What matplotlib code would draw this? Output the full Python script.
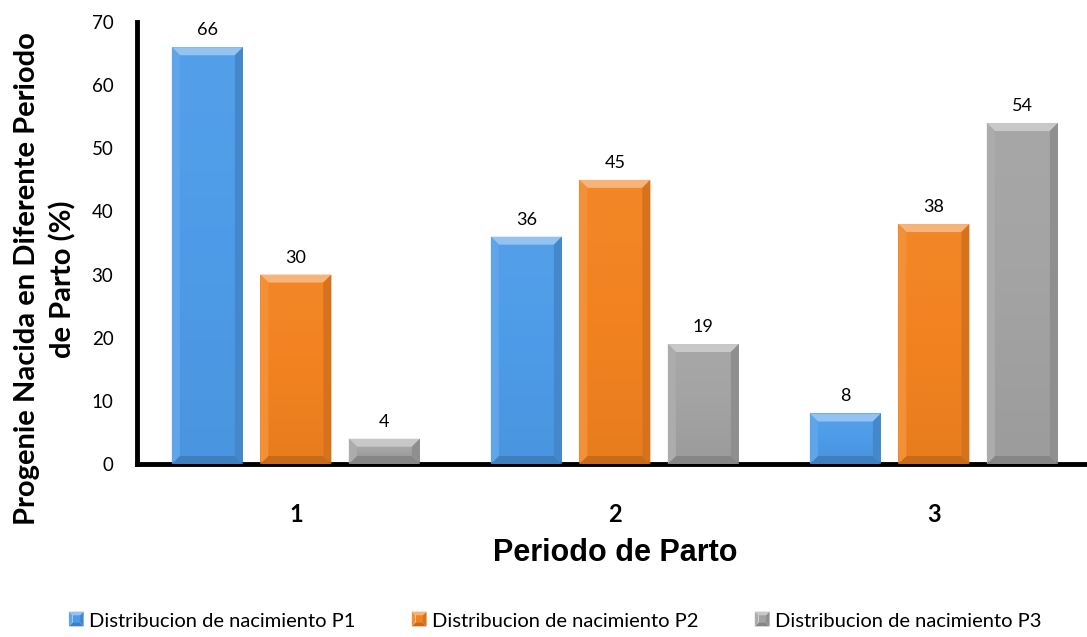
import matplotlib
matplotlib.use("Agg")
import matplotlib.pyplot as plt
from matplotlib.patches import Polygon, Rectangle
from matplotlib.legend_handler import HandlerBase
from matplotlib.colors import to_rgb
import numpy as np

categories = ["1", "2", "3"]
series_names = ["Distribucion de nacimiento P1",
                "Distribucion de nacimiento P2",
                "Distribucion de nacimiento P3"]
p1_values = [66, 36, 8]
p2_values = [30, 45, 38]
p3_values = [4, 19, 54]
series_values = [p1_values, p2_values, p3_values]
series_colors = ["#4d9be8", "#f2821f", "#a3a3a3"]
y_ticks = [0, 10, 20, 30, 40, 50, 60, 70]

FONT = ["Lato", "DejaVu Sans"]
plt.rcParams["font.family"] = FONT


def shade(c, f):
    r, g, b = to_rgb(c)
    if f >= 0:
        return (r + (1 - r) * f, g + (1 - g) * f, b + (1 - b) * f)
    return (r * (1 + f), g * (1 + f), b * (1 + f))


def bevel_faces(x0, y0, w, h, dx, dy, color):
    x1, y1 = x0 + w, y0 + h
    outer = [(x0, y0), (x1, y0), (x1, y1), (x0, y1)]
    inner = [(x0 + dx, y0 + dy), (x1 - dx, y0 + dy), (x1 - dx, y1 - dy), (x0 + dx, y1 - dy)]
    return [
        ([outer[3], outer[2], inner[2], inner[3]], shade(color, 0.40)),   # top
        ([outer[0], outer[1], inner[1], inner[0]], shade(color, -0.18)),  # bottom
        ([outer[0], outer[3], inner[3], inner[0]], shade(color, 0.10)),   # left
        ([outer[1], outer[2], inner[2], inner[1]], shade(color, -0.12)),  # right
    ]


def bevel_bar(ax, patch, color, bev_px=8):
    # bevelled look for one bar, sized in pixels
    x0, w, h = patch.get_x(), patch.get_width(), patch.get_height()
    inv = ax.transData.inverted()
    p0 = ax.transData.transform((x0, 0))
    dx = abs(inv.transform((p0[0] + bev_px, p0[1]))[0] - x0)
    dy = abs(inv.transform((p0[0], p0[1] + bev_px))[1])
    dx = min(dx, w / 2)
    dy = min(dy, h / 2)
    n = 14
    for i in range(n):
        t = i / n
        yb = dy + (h - 2 * dy) * t
        ax.add_patch(Rectangle((x0 + dx, yb), w - 2 * dx, (h - 2 * dy) / n + 1e-3,
                               facecolor=shade(color, 0.08 * t - 0.04),
                               edgecolor="none", zorder=3))
    for pts, col in bevel_faces(x0, 0, w, h, dx, dy, color):
        ax.add_patch(Polygon(pts, closed=True, facecolor=col, edgecolor="none", zorder=3))


class BevelSquare(HandlerBase):
    def create_artists(self, legend, orig_handle, xd, yd, width, height, fontsize, trans):
        col = orig_handle.get_facecolor()
        s = min(width, height)
        x0 = xd + (width - s) / 2
        y0 = yd + (height - s) / 2
        b = s * 0.25
        arts = [Rectangle((x0 + b, y0 + b), s - 2 * b, s - 2 * b, facecolor=col,
                          edgecolor="none", transform=trans)]
        for pts, c in bevel_faces(x0, y0, s, s, b, b, col):
            arts.append(Polygon(pts, closed=True, facecolor=c, edgecolor="none", transform=trans))
        return arts


fig = plt.figure(figsize=(10.87, 6.37), dpi=100)
ax = fig.add_axes([137 / 1087, 1 - 464 / 637, 1 - 137 / 1087, (464 - 22) / 637])

x = np.arange(len(categories))
bar_w = 0.2226
step = 0.2774
ax.set_xlim(-0.498, 2.48)
ax.set_ylim(0, 70)

handles = []
for k, (vals, col, name) in enumerate(zip(series_values, series_colors, series_names)):
    pos = x + (k - 1) * step
    bars = ax.bar(pos, vals, width=bar_w, color=col, label=name, zorder=2)
    handles.append(bars.patches[0])
    for b, v in zip(bars, vals):
        bevel_bar(ax, b, col)
        ax.text(b.get_x() + b.get_width() / 2, v + 2.7, str(v),
                ha="center", va="center", fontsize=13, color="black")

ax.set_yticks(y_ticks)
ax.set_yticklabels([str(t) for t in y_ticks], fontsize=13.5)
ax.set_xticks(x)
ax.set_xticklabels(categories, fontsize=17, fontweight="bold")
ax.tick_params(axis="both", length=0)
ax.tick_params(axis="y", pad=17)
ax.tick_params(axis="x", pad=28)

for s in ["top", "right"]:
    ax.spines[s].set_visible(False)
ax.spines["left"].set_linewidth(3.5)
ax.spines["bottom"].set_linewidth(3.5)

fig.text(615 / 1087, 1 - 553 / 637, "Periodo de Parto", fontsize=22, fontweight="bold",
         family=["Liberation Sans", "DejaVu Sans"], ha="center", va="center")
fig.text(45 / 1087, 1 - 279 / 637, "Progenie Nacida en Diferente Periodo\nde Parto (%)",
         fontsize=21, fontweight="bold", rotation=90, ha="center", va="center",
         multialignment="center", linespacing=1.4)

fig.legend(handles, series_names, loc="center", bbox_to_anchor=(0.5106, 1 - 621 / 637),
           ncol=3, frameon=False, fontsize=14.5, handlelength=0.75, handleheight=0.75,
           handletextpad=0.25, columnspacing=2.8,
           handler_map={h: BevelSquare() for h in handles})

fig.savefig("out.png", dpi=100)
